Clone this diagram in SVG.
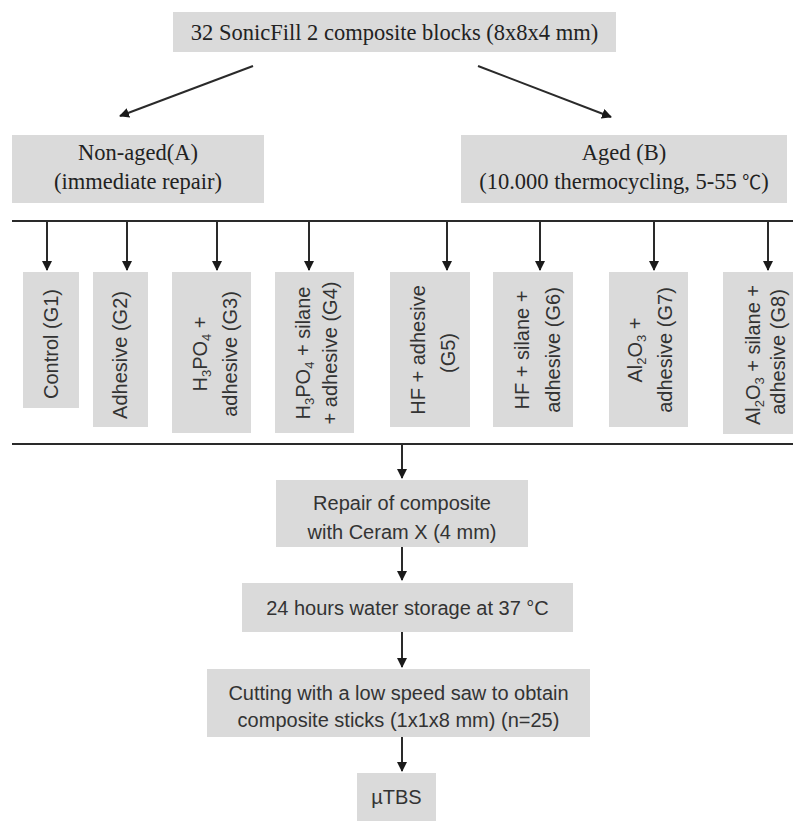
<svg xmlns="http://www.w3.org/2000/svg" width="793" height="821" viewBox="0 0 793 821">
<defs>
<style>
.box{fill:#dadada;}
.serif{font-family:"Liberation Serif","Noto Sans CJK SC",serif;font-size:22.5px;fill:#222;text-anchor:middle;}
.sans{font-family:"Liberation Sans","Noto Sans",sans-serif;font-size:20px;fill:#333;text-anchor:middle;}
.ln{stroke:#2a2a2a;stroke-width:2;fill:none;}
.ar{stroke:#2a2a2a;stroke-width:2;fill:none;marker-end:url(#ah);}
.sub{font-size:13px;}
</style>
<marker id="ah" viewBox="0 0 10 10" refX="9" refY="5" markerWidth="5" markerHeight="5" orient="auto" markerUnits="strokeWidth">
<path d="M0,0 L10,5 L0,10 z" fill="#1a1a1a"/>
</marker>
</defs>
<rect width="793" height="821" fill="#ffffff"/>

<g id="connectors">
<line class="ar" x1="253" y1="66" x2="120" y2="116"/>
<line class="ar" x1="478" y1="66" x2="611" y2="117"/>
<line class="ln" x1="12" y1="221" x2="793" y2="221"/>
<line class="ar" x1="47" y1="221" x2="47" y2="270"/>
<line class="ar" x1="127" y1="221" x2="127" y2="270"/>
<line class="ar" x1="217" y1="221" x2="217" y2="270"/>
<line class="ar" x1="309" y1="221" x2="309" y2="270"/>
<line class="ar" x1="447" y1="221" x2="447" y2="270"/>
<line class="ar" x1="540" y1="221" x2="540" y2="270"/>
<line class="ar" x1="654" y1="221" x2="654" y2="270"/>
<line class="ar" x1="768" y1="221" x2="768" y2="270"/>
<line class="ln" x1="12" y1="444" x2="793" y2="444"/>
<line class="ar" x1="402" y1="444" x2="402" y2="478"/>
<line class="ar" x1="402" y1="547" x2="402" y2="580"/>
<line class="ar" x1="402" y1="632" x2="402" y2="667"/>
<line class="ar" x1="402" y1="737" x2="402" y2="771"/>
</g>

<g id="start">
<rect class="box" x="173" y="12" width="443" height="40"/>
<text class="serif" x="394.5" y="40">32 SonicFill 2 composite blocks (8x8x4 mm)</text>
</g>

<g id="nonaged">
<rect class="box" x="12" y="135" width="252" height="68"/>
<text class="serif" x="138" y="160">Non-aged(A)</text>
<text class="serif" x="138" y="189">(immediate repair)</text>
</g>

<g id="aged">
<rect class="box" x="461" y="135" width="326" height="68"/>
<text class="serif" x="624" y="160">Aged (B)</text>
<text class="serif" x="624" y="189">(10.000 thermocycling, 5-55 <tspan font-size="19">℃</tspan>)</text>
</g>

<g id="g1">
<rect class="box" x="23" y="272" width="56" height="136"/>
<text class="sans" transform="translate(58,344) rotate(-90)">Control (G1)</text>
</g>

<g id="g2">
<rect class="box" x="93" y="272" width="55" height="155"/>
<text class="sans" transform="translate(127,355) rotate(-90)">Adhesive (G2)</text>
</g>

<g id="g3">
<rect class="box" x="172" y="272" width="79" height="161"/>
<text class="sans" transform="translate(207,354) rotate(-90)">H<tspan class="sub" dy="4">3</tspan><tspan dy="-4">PO</tspan><tspan class="sub" dy="4">4</tspan><tspan dy="-4"> +</tspan></text>
<text class="sans" transform="translate(237,354) rotate(-90)">adhesive (G3)</text>
</g>

<g id="g4">
<rect class="box" x="275" y="272" width="79" height="161"/>
<text class="sans" transform="translate(310,353) rotate(-90)">H<tspan class="sub" dy="4">3</tspan><tspan dy="-4">PO</tspan><tspan class="sub" dy="4">4</tspan><tspan dy="-4"> + silane</tspan></text>
<text class="sans" transform="translate(337,353) rotate(-90)">+ adhesive (G4)</text>
</g>

<g id="g5">
<rect class="box" x="390" y="272" width="80" height="155"/>
<text class="sans" transform="translate(425,350) rotate(-90)">HF + adhesive</text>
<text class="sans" transform="translate(455,353) rotate(-90)">(G5)</text>
</g>

<g id="g6">
<rect class="box" x="493" y="272" width="80" height="155"/>
<text class="sans" transform="translate(529,350) rotate(-90)">HF + silane +</text>
<text class="sans" transform="translate(560,350) rotate(-90)">adhesive (G6)</text>
</g>

<g id="g7">
<rect class="box" x="609" y="272" width="79" height="155"/>
<text class="sans" transform="translate(642,350) rotate(-90)">Al<tspan class="sub" dy="4">2</tspan><tspan dy="-4">O</tspan><tspan class="sub" dy="4">3</tspan><tspan dy="-4"> +</tspan></text>
<text class="sans" transform="translate(672,350) rotate(-90)">adhesive (G7)</text>
</g>

<g id="g8">
<rect class="box" x="723" y="272" width="70" height="162"/>
<text class="sans" transform="translate(760,355) rotate(-90)">Al<tspan class="sub" dy="4">2</tspan><tspan dy="-4">O</tspan><tspan class="sub" dy="4">3</tspan><tspan dy="-4"> + silane +</tspan></text>
<text class="sans" transform="translate(785,352) rotate(-90)">adhesive (G8)</text>
</g>

<g id="repair">
<rect class="box" x="276" y="480" width="252" height="67"/>
<text class="sans" x="402" y="510">Repair of composite</text>
<text class="sans" x="402" y="539">with Ceram X (4 mm)</text>
</g>

<g id="storage">
<rect class="box" x="242" y="583" width="331" height="49"/>
<text class="sans" x="407.5" y="615">24 hours water storage at 37 °C</text>
</g>

<g id="cutting">
<rect class="box" x="207" y="669" width="383" height="68"/>
<text class="sans" x="398.5" y="700">Cutting with a low speed saw to obtain</text>
<text class="sans" x="398.5" y="727">composite sticks (1x1x8 mm) (n=25)</text>
</g>

<g id="mtbs">
<rect class="box" x="357" y="773" width="79" height="48"/>
<text class="sans" x="396.5" y="804">µTBS</text>
</g>
</svg>
